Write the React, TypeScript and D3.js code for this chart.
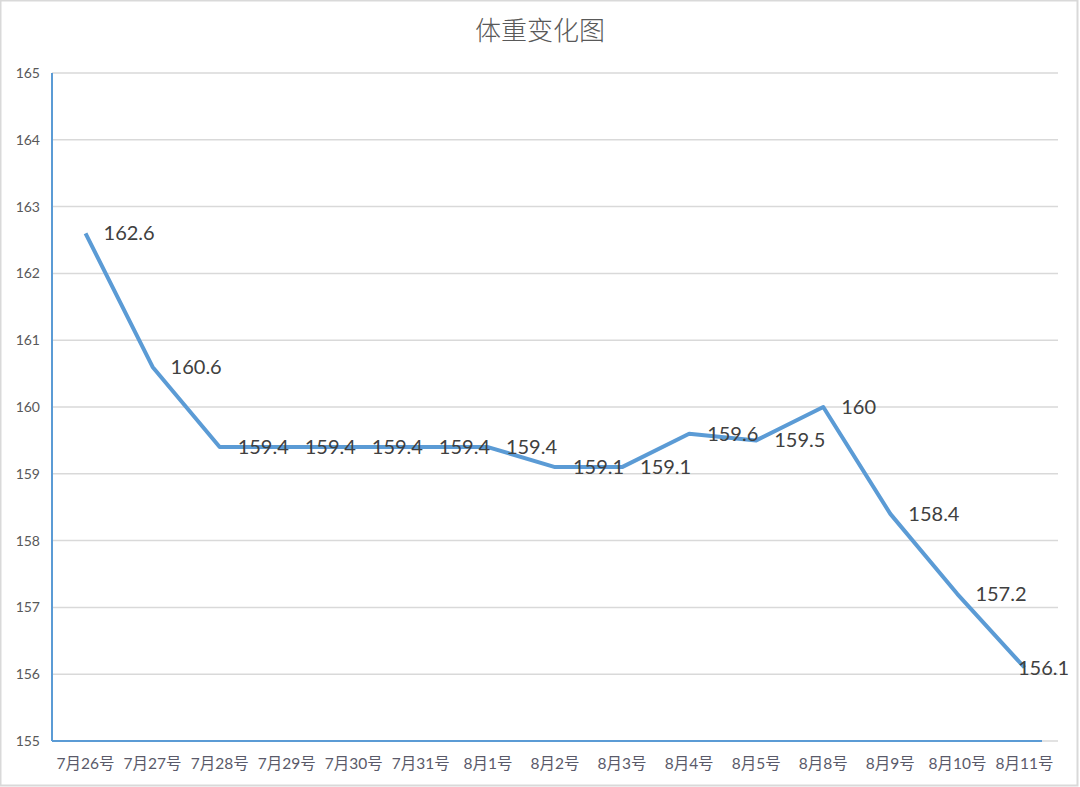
import React from 'react';
import * as d3 from 'd3';

const title = '体重变化图';
const categories = ['7月26号', '7月27号', '7月28号', '7月29号', '7月30号', '7月31号', '8月1号', '8月2号', '8月3号', '8月4号', '8月5号', '8月8号', '8月9号', '8月10号', '8月11号'];
const weights = [162.6, 160.6, 159.4, 159.4, 159.4, 159.4, 159.4, 159.1, 159.1, 159.6, 159.5, 160, 158.4, 157.2, 156.1];
const yTicks = [155, 156, 157, 158, 159, 160, 161, 162, 163, 164, 165];

const W = 1080;
const H = 787;
const margin = { top: 73, right: 22, bottom: 46, left: 52 };

const App: React.FC = () => {
  const x = d3
    .scaleBand<string>()
    .domain(categories)
    .range([margin.left, W - margin.right]);

  const y = d3
    .scaleLinear()
    .domain([155, 165])
    .range([H - margin.bottom, margin.top]);

  const cx = (c: string) => (x(c) ?? 0) + x.bandwidth() / 2;

  const line = d3
    .line<number>()
    .x((_, i) => cx(categories[i]))
    .y((d) => y(d));

  const numFont = "Lato, 'Noto Sans CJK SC', sans-serif";
  const cjkFont = "'Noto Sans CJK SC', sans-serif";

  return (
    <div style={{ position: 'fixed', left: 0, top: 0 }}>
      <svg width={W} height={H} style={{ display: 'block', background: '#fff' }}>
        <rect x={0.5} y={0.5} width={W - 3} height={H - 2} fill="#fff" stroke="#d9d9d9" strokeWidth={2} />

        {/* title */}
        <text x={540} y={40} textAnchor="middle" fontSize={26} fill="#595959" fontFamily={cjkFont} fontWeight={300}>
          {title}
        </text>

        {/* gridlines */}
        {yTicks.map((t) => (
          <line key={`g${t}`} x1={margin.left} x2={W - margin.right} y1={y(t)} y2={y(t)} stroke="#d9d9d9" strokeWidth={1.5} />
        ))}

        {/* y tick labels */}
        {yTicks.map((t) => (
          <text key={`t${t}`} x={40} y={y(t)} dy="0.35em" textAnchor="end" fontSize={14} fill="#595959" fontFamily={numFont}>
            {t}
          </text>
        ))}

        {/* axes */}
        <line x1={margin.left} x2={margin.left} y1={y(165)} y2={y(155)} stroke="#5B9BD5" strokeWidth={2} />
        <line x1={margin.left} x2={W - margin.right - 16} y1={y(155)} y2={y(155)} stroke="#5B9BD5" strokeWidth={2} />

        {/* x tick labels */}
        {categories.map((c) => (
          <text key={c} x={cx(c)} y={769} textAnchor="middle" fontSize={15.5} fill="#5a5a6a" fontFamily={numFont}>
            {c}
          </text>
        ))}

        {/* series line */}
        <path d={line(weights) ?? ''} fill="none" stroke="#5B9BD5" strokeWidth={4} strokeLinejoin="round" />

        {/* data labels */}
        {weights.map((v, i) => {
          const px = cx(categories[i]);
          const lx = Math.min(px + 18, W - 62);
          return (
            <text key={`d${i}`} x={lx} y={y(v)} dy="0.35em" fontSize={20} fill="#404040" fontFamily={numFont}>
              {v}
            </text>
          );
        })}
      </svg>
    </div>
  );
};

export default App;
